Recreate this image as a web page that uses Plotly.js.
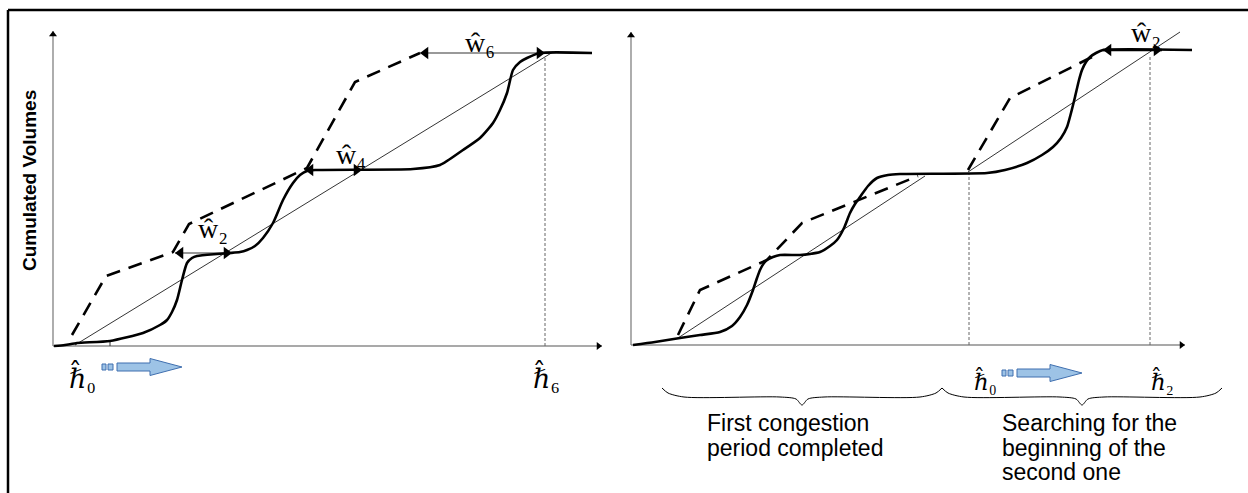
<!DOCTYPE html>
<html><head><meta charset="utf-8">
<script src="https://cdn.plot.ly/plotly-3.0.1.min.js"></script>
<style>html,body{margin:0;padding:0;background:#fff;}#chart{width:1248px;height:493px;}</style>
</head><body><div id="chart"></div>
<script>
// ---------- Left panel (time, cumulated volume) ----------
const leftSolidX = [1,12,24,57,90,107,114,119,124,129,134,139,144,164,177,187,194,202,210,220,230,240,247,254,262,360,387,410,427,440,447,454,460,467,474,487,539];
const leftSolidY = [0,1,3,5,13,21,26,34,46,66,83,88,90,92,93,94,96,100,108,123,146,163,171,175,176,177,181,196,208,223,236,253,276,284,288,293,293];
const leftDashX = [19,53,120,136,254,302,367];
const leftDashY = [11,70,94,122,178,264,293];
const leftThinX = [22,500];
const leftThinY = [1,294];
const leftAxisX = [0,549];
const leftAxisY = [0,315];
const leftDottedX = [492];
const leftDottedTop = [290];
const leftTickX = [57];
const leftTickTop = [4];
const leftWx0 = [122,252,367];
const leftWx1 = [179,309,492];
const leftWy = [93,176,293];
const leftWdash = ['solid','dot','solid'];
const leftWcolor = ['#777','#222','#777'];
const leftWlabels = ['\u2082','\u2084','\u2086'];
const leftWlabelX = [160,298,427];
const leftWlabelY = [118,192,304];
const leftHlabels = ['\u2080','\u2086'];
const leftHlabelX = [29,493];
const leftHlabelY = [-31,-31];
const leftBlueTip = [129,-21];

// ---------- Right panel ----------
const rightSolidX = [2,24,49,69,89,101,109,116,122,126,129,133,136,142,149,169,179,189,199,206,213,219,224,229,237,246,257,269,356,374,396,411,422,430,436,440,444,448,451,455,459,465,472,561];
const rightSolidY = [0,3,7,10,13,19,28,40,55,67,75,82,85,88,90,90,91,93,99,105,117,132,141,148,159,167,170,171,172,175,182,190,198,207,218,232,248,265,275,283,288,292,295,295];
const rightDash1X = [47,69,136,171,287];
const rightDash1Y = [10,55,85,122,169];
const rightDash2X = [337,379,469];
const rightDash2Y = [175,247,292];
const rightThin1X = [47,294];
const rightThin1Y = [7,169];
const rightThin2X = [337,549];
const rightThin2Y = [173,313];
const rightAxisX = [0,554];
const rightAxisY = [0,313];
const rightDottedX = [338,519];
const rightDottedTop = [172,290];
const rightWx0 = [472];
const rightWx1 = [531];
const rightWy = [295];
const rightWlabels = ['\u2082'];
const rightWlabelX = [515];
const rightWlabelY = [313];
const rightHlabels = ['\u2080','\u2082'];
const rightHlabelX = [354,531];
const rightHlabelY = [-36,-36];
const rightBlueTip = [451,-28];
const braceX0 = [31,311];
const braceX1 = [311,591];
const braceTexts = [["First congestion","period completed"],["Searching for the","beginning of the","second one"]];
const braceTextX = [74,369];
const braceTextY = [-78,-103,-127];
const yAxisTitle = 'Cumulated Volumes';

// ---------- helpers ----------
const traces = [];
const annotations = [];
function line(x,y,xa,ya,opt){
  traces.push(Object.assign({type:'scatter',mode:'lines',x:x,y:y,xaxis:xa,yaxis:ya,
    hoverinfo:'skip',showlegend:false},opt));
}
// triangle marker whose tip lands on (x,y)
function head(xa,ya,x,y,dir,size){
  const r=size/2;
  const off={left:[r,0],right:[-r,0],up:[0,-r]}[dir];
  traces.push({type:'scatter',mode:'markers',x:[x+off[0]],y:[y+off[1]],xaxis:xa,yaxis:ya,
    hoverinfo:'skip',showlegend:false,cliponaxis:false,
    marker:{symbol:'triangle-'+dir,size:size,color:'#000',line:{width:0}}});
}
const arrowBodyDx=[-65,-32,-32,0,-32,-32,-65,-65];
const arrowBodyDy=[4,4,8.5,0,-8.5,-4,-4,4];
const sqDx=[[-80,-76,-76,-80,-80],[-74,-69,-69,-74,-74]];
const sqDy=[-3,-3,3,3,-3];
function blueArrow(tip,xa,ya){
  const style={fill:'toself',fillcolor:'#9DC3E6',line:{color:'#3F6FAF',width:1}};
  line(arrowBodyDx.map(d=>tip[0]+d),arrowBodyDy.map(d=>tip[1]+d),xa,ya,style);
  sqDx.forEach(s=>line(s.map(d=>tip[0]+d),sqDy.map(d=>tip[1]+d),xa,ya,style));
}
function brace(x0,x1,xa,ya){
  const yEnd=-43,yMid=-52,yTip=-60,xm=(x0+x1)/2;
  line([x0,x0+6,x0+22,xm-22,xm-6,xm,xm+6,xm+22,x1-22,x1-6,x1],
       [yEnd,yMid+4,yMid,yMid,yMid-2,yTip,yMid-2,yMid,yMid,yMid+4,yEnd],xa,ya,
       {line:{color:'#000',width:1,shape:'spline',smoothing:0.8}});
}
const serif='Liberation Serif, DejaVu Serif, serif';
function hLabel(xa,ya,x,y,sub,size){
  annotations.push({xref:xa,yref:ya,x:x,y:y,showarrow:false,xanchor:'center',yanchor:'middle',
    text:'\u210F\u0302'+sub,font:{family:serif,size:size,color:'#000'}});
}
function wLabel(xa,ya,x,y,sub){
  annotations.push({xref:xa,yref:ya,x:x,y:y,showarrow:false,xanchor:'center',yanchor:'middle',
    text:'\u0175'+sub,font:{family:serif,size:28,color:'#000'}});
}

// ---------- left panel ----------
line(leftAxisX,[0,0],'x','y',{line:{color:'#555',width:1.2}});
line([0,0],leftAxisY,'x','y',{line:{color:'#777',width:1.2}});
head('x','y',leftAxisX[1],0,'right',7);
head('x','y',0,leftAxisY[1],'up',7);
leftDottedX.forEach((x,i)=>line([x,x],[0,leftDottedTop[i]],'x','y',{line:{color:'#666',width:1,dash:'3px,2px'}}));
leftTickX.forEach((x,i)=>line([x,x],[0,leftTickTop[i]],'x','y',{line:{color:'#333',width:1}}));
line(leftThinX,leftThinY,'x','y',{line:{color:'#000',width:0.8}});
line(leftDashX,leftDashY,'x','y',{line:{color:'#000',width:2.6,dash:'14px,9px'}});
leftWx0.forEach((x0,i)=>{
  line([x0,leftWx1[i]],[leftWy[i],leftWy[i]],'x','y',{line:{color:leftWcolor[i],width:1.5,dash:leftWdash[i]}});
});
line(leftSolidX,leftSolidY,'x','y',{line:{color:'#000',width:2.6,shape:'spline',smoothing:0.6}});
leftWx0.forEach((x0,i)=>{
  head('x','y',x0,leftWy[i],'left',11);
  head('x','y',leftWx1[i],leftWy[i],'right',11);
  wLabel('x','y',leftWlabelX[i],leftWlabelY[i],leftWlabels[i]);
});
leftHlabels.forEach((s,i)=>hLabel('x','y',leftHlabelX[i],leftHlabelY[i],s,27));
blueArrow(leftBlueTip,'x','y');
annotations.push({xref:'x',yref:'y',x:-24,y:165,showarrow:false,textangle:-90,
  text:'<b>'+yAxisTitle+'</b>',font:{family:'Liberation Sans, Arial, sans-serif',size:19,color:'#000'}});

// ---------- right panel ----------
line(rightAxisX,[0,0],'x2','y2',{line:{color:'#555',width:1.2}});
line([0,0],rightAxisY,'x2','y2',{line:{color:'#777',width:1.2}});
head('x2','y2',rightAxisX[1],0,'right',7);
head('x2','y2',0,rightAxisY[1],'up',7);
rightDottedX.forEach((x,i)=>line([x,x],[0,rightDottedTop[i]],'x2','y2',{line:{color:'#666',width:1,dash:'3px,2px'}}));
line(rightThin1X,rightThin1Y,'x2','y2',{line:{color:'#000',width:0.8}});
line(rightThin2X,rightThin2Y,'x2','y2',{line:{color:'#000',width:0.8}});
line(rightDash1X,rightDash1Y,'x2','y2',{line:{color:'#000',width:2.6,dash:'14px,9px'}});
line(rightDash2X,rightDash2Y,'x2','y2',{line:{color:'#000',width:2.6,dash:'14px,9px'}});
rightWx0.forEach((x0,i)=>line([x0,rightWx1[i]],[rightWy[i],rightWy[i]],'x2','y2',{line:{color:'#000',width:2.6}}));
line(rightSolidX,rightSolidY,'x2','y2',{line:{color:'#000',width:2.6,shape:'spline',smoothing:0.6}});
rightWx0.forEach((x0,i)=>{
  head('x2','y2',x0,rightWy[i],'left',11);
  head('x2','y2',rightWx1[i],rightWy[i],'right',11);
  wLabel('x2','y2',rightWlabelX[i],rightWlabelY[i],rightWlabels[i]);
});
rightHlabels.forEach((s,i)=>hLabel('x2','y2',rightHlabelX[i],rightHlabelY[i],s,23));
blueArrow(rightBlueTip,'x2','y2');
braceX0.forEach((x0,i)=>{
  brace(x0,braceX1[i],'x2','y2');
  braceTexts[i].forEach((t,j)=>annotations.push({xref:'x2',yref:'y2',x:braceTextX[i],y:braceTextY[j],
    showarrow:false,xanchor:'left',yanchor:'middle',text:t,
    font:{family:'Liberation Sans, Arial, sans-serif',size:23,color:'#000'}}));
});

const W=1248,H=493;
const hidden={visible:false,fixedrange:true};
const layout={
  width:W,height:H,margin:{l:0,r:0,t:0,b:0},paper_bgcolor:'#fff',plot_bgcolor:'rgba(0,0,0,0)',
  showlegend:false,hovermode:false,
  xaxis:Object.assign({domain:[10/W,620/W],range:[-43,567]},hidden),
  yaxis:Object.assign({domain:[0,481/H],range:[-147,334]},hidden),
  xaxis2:Object.assign({domain:[622/W,1],range:[-9,617],anchor:'y2'},hidden),
  yaxis2:Object.assign({domain:[0,481/H],range:[-148,333],anchor:'x2'},hidden),
  annotations:annotations,
  shapes:[
    {type:'line',xref:'paper',yref:'paper',x0:8/W,x1:1,y0:(H-10)/H,y1:(H-10)/H,line:{color:'#000',width:2.5}},
    {type:'line',xref:'paper',yref:'paper',x0:8/W,x1:8/W,y0:0,y1:(H-10)/H,line:{color:'#000',width:2.5}}
  ]
};
Plotly.newPlot('chart',traces,layout,{displayModeBar:false,staticPlot:true});
</script></body></html>
